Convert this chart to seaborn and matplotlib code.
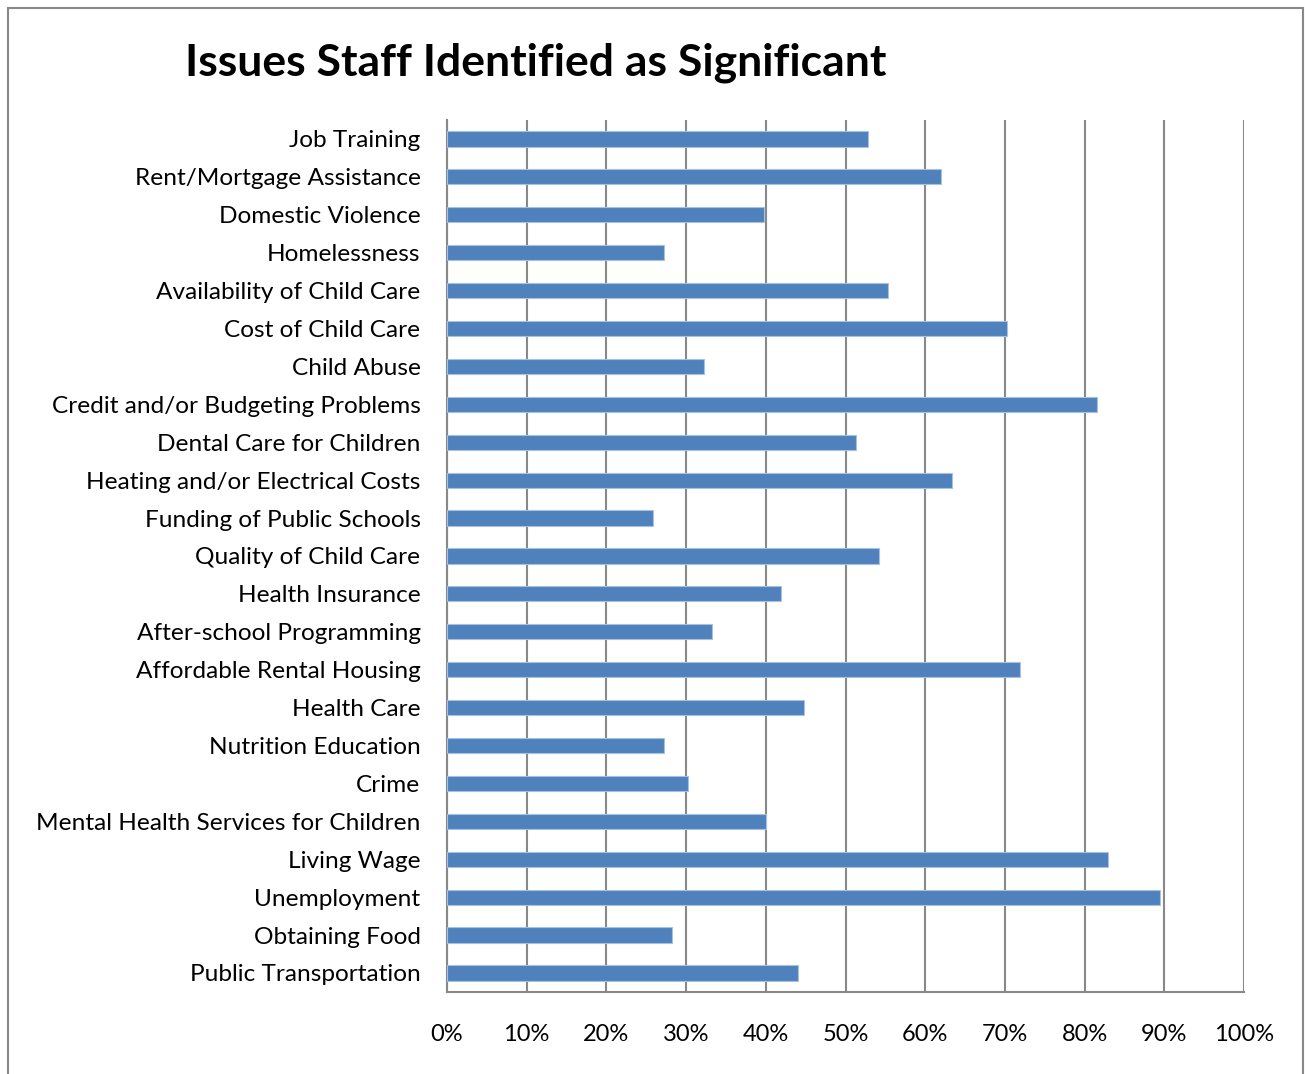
import matplotlib
matplotlib.use("Agg")
import matplotlib.pyplot as plt
import seaborn as sns
import pandas as pd
from matplotlib.patches import Rectangle

# Data

issues = [
    "Job Training", "Rent/Mortgage Assistance", "Domestic Violence", "Homelessness",
    "Availability of Child Care", "Cost of Child Care", "Child Abuse",
    "Credit and/or Budgeting Problems", "Dental Care for Children",
    "Heating and/or Electrical Costs", "Funding of Public Schools",
    "Quality of Child Care", "Health Insurance", "After-school Programming",
    "Affordable Rental Housing", "Health Care", "Nutrition Education", "Crime",
    "Mental Health Services for Children", "Living Wage", "Unemployment",
    "Obtaining Food", "Public Transportation",
]
share = [
    52.8, 62.0, 39.8, 27.2, 55.3, 70.3, 32.2, 81.6, 51.3, 63.4, 25.9, 54.2,
    41.9, 33.3, 71.9, 44.8, 27.2, 30.2, 40.0, 82.9, 89.4, 28.2, 44.1,
]
x_ticks = [0, 10, 20, 30, 40, 50, 60, 70, 80, 90, 100]
x_labels = ["0%", "10%", "20%", "30%", "40%", "50%", "60%", "70%", "80%", "90%", "100%"]

df = pd.DataFrame({"Issue": issues, "Share": share})

# Style

sns.set_theme(style="white")
plt.rcParams["font.family"] = ["Lato", "DejaVu Sans"]

fig = plt.figure(figsize=(13.05, 10.74), dpi=100)
ax = fig.add_axes([0.3425, 0.0764, 0.6108, 0.8119])

sns.barplot(
    data=df,
    x="Share",
    y="Issue",
    orient="h",
    color="#4F81BD",
    saturation=1,
    width=0.4,
    edgecolor="#A9C1E0",
    linewidth=0.8,
    zorder=3,
    ax=ax,
)

ax.set_xlim(0, 100)
ax.set_ylim(len(issues) - 0.5, -0.5)
ax.set_xticks(x_ticks)
ax.set_xticklabels(x_labels, fontsize=17, color="black")
ax.tick_params(axis="x", length=0, pad=23)
ax.tick_params(axis="y", length=0, pad=19, labelsize=17.6, labelcolor="black")
ax.xaxis.grid(True, color="#888888", linewidth=1.5, zorder=0)
ax.set_xlabel("")
ax.set_ylabel("")

for side in ["top", "right"]:
    ax.spines[side].set_visible(False)
for side in ["left", "bottom"]:
    ax.spines[side].set_color("#888888")
    ax.spines[side].set_linewidth(1.5)

fig.text(0.1415, 0.942, "Issues Staff Identified as Significant",
         fontsize=32, fontweight="bold", ha="left", va="center", color="black")

# Outer frame
fig.patches.append(Rectangle((8 / 1305, -0.01), 1295 / 1305, 1.01 - 8 / 1074,
                             transform=fig.transFigure, fill=False,
                             edgecolor="#888888", linewidth=1.5))

fig.savefig("out.png", dpi=100)
